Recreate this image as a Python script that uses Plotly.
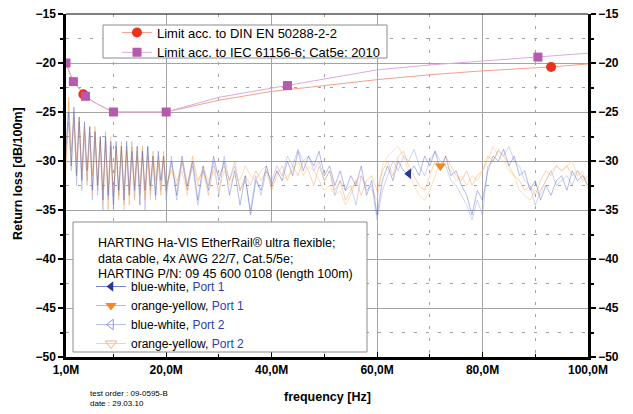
import plotly.graph_objects as go

# ---------------- data ----------------
freq = [1.0, 1.5, 2.0, 2.5, 3.0, 3.5, 4.0, 4.5, 5.0, 5.5, 6.0, 6.5, 7.0, 7.5, 8.0, 8.5,
        9.0, 9.5, 10.0, 10.5, 11.0, 11.5, 12.0, 12.5, 13.0, 13.5, 14.0, 14.5, 15.0, 15.5,
        16.0, 16.5, 17.0, 17.5, 18.0, 18.5, 19.0, 19.5, 20.0,
        21, 22, 23, 24, 25, 26, 27, 28, 29, 30, 31, 32, 33, 34, 35, 36, 37, 38, 39, 40,
        41, 42, 43, 44, 45, 46, 47, 48, 49, 50, 51, 52, 53, 54, 55, 56, 57, 58, 59, 60,
        61, 62, 63, 64, 65, 66, 67, 68, 69, 70, 71, 72, 73, 74, 75, 76, 77, 78, 79, 80,
        81, 82, 83, 84, 85, 86, 87, 88, 89, 90, 91, 92, 93, 94, 95, 96, 97, 98, 99, 100]

bw_port1 = [-28.5, -25.0, -30.5, -24.5, -31.5, -25.5, -32.0, -26.0, -31.0, -26.5, -33.0, -27.0,
            -32.5, -27.5, -34.0, -27.5, -33.5, -28.0, -34.5, -28.0, -33.0, -28.5, -34.0, -28.0,
            -33.5, -29.0, -33.0, -28.5, -34.5, -29.0, -33.0, -28.5, -32.5, -29.5, -33.5, -29.0,
            -32.0, -29.5, -33.0,
            -30.0, -33.5, -29.5, -32.5, -30.0, -34.0, -30.5, -33.0, -29.5, -32.0,
            -30.0, -33.5, -31.0, -34.5, -31.5, -35.5, -32.0, -33.0, -30.5, -32.5,
            -31.0, -32.0, -30.0, -31.5, -29.0, -31.0, -29.5, -30.5, -29.0, -31.5,
            -30.5, -32.5, -31.0, -33.0, -31.5, -32.5, -30.5, -33.5, -32.0, -35.5,
            -32.0, -30.5, -32.0, -30.0, -31.0, -31.3, -30.5, -31.5, -29.5, -30.5,
            -29.0, -31.0, -29.5, -31.5, -31.0, -32.5, -33.5, -35.5, -33.0, -34.0,
            -31.0, -29.5, -30.0, -28.8, -30.5, -29.5, -31.5, -31.0, -33.0, -32.0,
            -34.0, -32.5, -33.5, -32.0, -31.5, -33.0, -31.0, -32.0, -31.5, -32.5]

oy_port1 = [-30.0, -23.5, -29.0, -25.5, -30.0, -26.0, -31.0, -26.5, -32.5, -27.0, -31.5, -26.5,
            -33.0, -27.5, -33.0, -28.0, -35.0, -28.5, -33.5, -28.5, -34.0, -28.0, -33.0, -29.0,
            -34.5, -28.5, -32.5, -29.0, -33.5, -28.5, -34.0, -29.5, -33.0, -29.0, -32.0, -30.0,
            -33.5, -29.0, -32.5,
            -31.0, -32.5, -30.0, -33.0, -29.5, -32.0, -31.0, -33.5, -30.5, -31.5,
            -30.5, -32.0, -30.0, -33.0, -31.5, -32.5, -31.0, -32.0, -31.0, -33.0,
            -31.5, -30.5, -32.0, -30.5, -31.5, -30.0, -31.0, -32.5, -30.5, -32.0,
            -31.0, -33.0, -32.0, -34.0, -33.0, -32.0, -33.5, -32.0, -31.5, -33.0,
            -31.0, -30.0, -31.5, -29.5, -29.0, -30.5, -31.5, -32.5, -33.0, -31.5,
            -30.0, -30.5, -29.5, -30.5, -31.5, -32.0, -31.0, -32.5, -31.5, -31.0,
            -29.5, -30.0, -28.8, -29.5, -30.5, -31.5, -32.0, -33.0, -32.5, -33.5,
            -32.0, -31.0, -31.5, -30.5, -31.0, -30.5, -31.5, -31.0, -32.0, -31.5]

bw_port2 = [-29.5, -26.0, -31.0, -25.0, -32.5, -26.0, -33.0, -27.0, -32.0, -26.5, -34.0, -27.5,
            -33.5, -28.0, -35.0, -27.0, -34.0, -28.5, -35.0, -28.5, -33.5, -29.0, -34.5, -28.5,
            -33.0, -28.0, -34.0, -29.5, -33.0, -29.0, -35.0, -28.5, -33.5, -30.0, -34.0, -29.5,
            -33.0, -30.0, -34.0,
            -29.5, -34.0, -30.0, -33.0, -30.5, -34.5, -31.0, -32.5, -30.0, -33.5,
            -29.5, -32.0, -30.5, -33.0, -32.0, -35.0, -31.5, -33.5, -31.0, -32.0,
            -30.5, -31.5, -29.5, -30.5, -28.8, -30.0, -29.5, -31.0, -30.0, -32.0,
            -31.0, -33.5, -32.0, -33.0, -32.5, -34.5, -31.5, -33.0, -32.5, -36.0,
            -33.0, -31.5, -30.0, -31.0, -29.5, -30.0, -28.8, -30.5, -31.5, -30.0,
            -29.0, -30.0, -30.5, -32.0, -32.5, -33.5, -34.5, -36.0, -34.0, -35.5,
            -30.5, -30.0, -29.0, -29.5, -28.5, -30.0, -30.5, -32.0, -32.5, -34.5,
            -33.0, -32.0, -31.0, -32.5, -32.0, -31.5, -32.5, -31.0, -31.5, -32.0]

oy_port2 = [-31.0, -24.0, -30.5, -26.0, -31.5, -25.5, -32.0, -27.0, -31.5, -27.5, -33.5, -27.0,
            -32.0, -28.0, -34.5, -28.5, -33.0, -27.5, -34.0, -29.0, -33.5, -28.5, -35.0, -29.0,
            -33.0, -29.5, -34.0, -28.5, -32.5, -29.5, -33.5, -29.0, -34.0, -29.5, -33.0, -30.0,
            -32.5, -29.5, -33.0,
            -30.5, -32.0, -31.0, -33.5, -30.0, -32.5, -30.5, -32.0, -31.0, -33.0,
            -31.0, -32.5, -31.5, -32.0, -30.5, -31.5, -32.0, -31.0, -30.5, -32.5,
            -31.0, -32.0, -31.5, -31.0, -30.0, -31.5, -30.5, -31.0, -32.0, -33.0,
            -32.5, -33.5, -33.0, -34.5, -33.5, -32.0, -31.5, -32.5, -33.0, -34.0,
            -30.5, -29.5, -29.0, -28.5, -29.5, -31.0, -32.5, -33.5, -34.0, -33.0,
            -31.5, -30.0, -30.5, -31.0, -32.0, -31.5, -32.5, -31.5, -32.0, -31.0,
            -30.0, -28.5, -29.5, -30.0, -31.0, -31.5, -33.0, -33.5, -34.0, -33.0,
            -33.5, -32.0, -31.0, -30.5, -31.0, -30.5, -30.0, -31.5, -31.0, -33.0]

# marker positions on the measured curves
bw_port1_mark_f = [66]
oy_port1_mark_f = [72]

# limit lines
din_f = [1, 2, 4.3, 6, 8, 10, 20, 30, 40, 50, 60, 70, 80, 93, 100]
din_v = [-20.0, -21.5, -23.2, -23.9, -24.5, -25.0, -25.0, -23.8, -22.9, -22.3, -21.7,
         -21.2, -20.8, -20.4, -20.1]
din_mark_f = [4.3, 93]

iec_f = [1, 2.4, 4.7, 7, 10, 20, 30, 43, 50, 60, 70, 80, 90.5, 100]
iec_v = [-20.0, -21.9, -23.4, -24.2, -25.0, -25.0, -23.5, -22.3, -21.6, -20.7, -20.2,
         -19.8, -19.4, -19.0]
iec_mark_f = [1, 2.4, 4.7, 10, 20, 43, 90.5]

x_tickvals = [1, 20, 40, 60, 80, 100]
x_ticktext = ["1,0M", "20,0M", "40,0M", "60,0M", "80,0M", "100,0M"]
x_minorvals = [10, 30, 50, 70, 90]
y_tickvals = [-15, -20, -25, -30, -35, -40, -45, -50]

info_lines = ["HARTING Ha-VIS EtherRail® ultra flexible;",
              "data cable, 4x AWG 22/7, Cat.5/5e;",
              "HARTING P/N: 09 45 600 0108 (length 100m)"]

# ---------------- styles ----------------
FONT = "Liberation Sans Narrow, Liberation Sans, Arial, sans-serif"
C_BW1 = "rgba(55,75,185,0.55)"
C_OY1 = "rgba(240,140,50,0.55)"
C_BW2 = "rgba(140,150,225,0.60)"
C_OY2 = "rgba(250,190,120,0.70)"
C_DIN_LINE = "#f5a08c"
C_DIN_MARK = "#e8341c"
C_IEC_LINE = "#dcaadc"
C_IEC_MARK = "#b65aae"


def pick(fs, xs, ys):
    return [ys[xs.index(f)] for f in fs]


fig = go.Figure()

# measured curves
for ys, col in [(bw_port2, C_BW2), (oy_port2, C_OY2), (oy_port1, C_OY1), (bw_port1, C_BW1)]:
    fig.add_trace(go.Scatter(x=freq, y=ys, mode="lines", line=dict(color=col, width=0.7),
                             showlegend=False, hoverinfo="skip"))

# limit curves
fig.add_trace(go.Scatter(x=din_f, y=din_v, mode="lines", line=dict(color=C_DIN_LINE, width=1),
                         showlegend=False))
fig.add_trace(go.Scatter(x=iec_f, y=iec_v, mode="lines", line=dict(color=C_IEC_LINE, width=1),
                         showlegend=False))
fig.add_trace(go.Scatter(x=din_mark_f, y=pick(din_mark_f, din_f, din_v), mode="markers",
                         marker=dict(symbol="circle", size=10, color=C_DIN_MARK), showlegend=False))
fig.add_trace(go.Scatter(x=iec_mark_f, y=pick(iec_mark_f, iec_f, iec_v), mode="markers",
                         marker=dict(symbol="square", size=9, color=C_IEC_MARK), showlegend=False))

# markers on measured curves
fig.add_trace(go.Scatter(x=bw_port1_mark_f, y=pick(bw_port1_mark_f, freq, bw_port1), mode="markers",
                         marker=dict(symbol="triangle-left", size=9, color="#24379a"),
                         showlegend=False))
fig.add_trace(go.Scatter(x=oy_port1_mark_f, y=pick(oy_port1_mark_f, freq, oy_port1), mode="markers",
                         marker=dict(symbol="triangle-down", size=10, color="#f08a24"),
                         showlegend=False))

# legend entries (legend 1: limits)
fig.add_trace(go.Scatter(x=[None], y=[None], mode="lines+markers", name="Limit acc. to DIN EN 50288-2-2",
                         line=dict(color=C_DIN_LINE, width=1),
                         marker=dict(symbol="circle", size=10, color=C_DIN_MARK), legend="legend"))
fig.add_trace(go.Scatter(x=[None], y=[None], mode="lines+markers",
                         name="Limit acc. to IEC 61156-6; Cat5e: 2010",
                         line=dict(color=C_IEC_LINE, width=1),
                         marker=dict(symbol="square", size=9, color=C_IEC_MARK), legend="legend"))

# legend entries (legend 2: measurements)
PB = "<span style='color:#2c3fb0'>{}</span>"
fig.add_trace(go.Scatter(x=[None], y=[None], mode="lines+markers",
                         name="blue-white, " + PB.format("Port 1"),
                         line=dict(color="rgba(55,75,185,0.7)", width=1),
                         marker=dict(symbol="triangle-left", size=9, color="#24379a"), legend="legend2"))
fig.add_trace(go.Scatter(x=[None], y=[None], mode="lines+markers",
                         name="orange-yellow, " + PB.format("Port 1"),
                         line=dict(color="rgba(240,140,50,0.7)", width=1),
                         marker=dict(symbol="triangle-down", size=10, color="#f08a24"), legend="legend2"))
fig.add_trace(go.Scatter(x=[None], y=[None], mode="lines+markers",
                         name="blue-white, " + PB.format("Port 2"),
                         line=dict(color=C_BW2, width=1),
                         marker=dict(symbol="triangle-left-open", size=9, color="#8c96dc"), legend="legend2"))
fig.add_trace(go.Scatter(x=[None], y=[None], mode="lines+markers",
                         name="orange-yellow, " + PB.format("Port 2"),
                         line=dict(color=C_OY2, width=1),
                         marker=dict(symbol="triangle-down-open", size=10, color="#f5b474"), legend="legend2"))

# invisible trace on the right axis so it is drawn
fig.add_trace(go.Scatter(x=[None], y=[None], yaxis="y2", showlegend=False))

# page body has an 8px margin: figure is drawn 8px smaller and all reference
# pixel positions are converted with that offset
OX, OY = 8, 8
W, H = 633 - OX, 414 - OY
L, R, T, B = 66 - OX, 45, 14 - OY, 57
pw, ph = W - L - R, H - T - B


def px(xp):
    return (xp - OX - L) / pw


def py(yp):
    return 1 - (yp - OY - T) / ph


tickfont = dict(family=FONT, size=12, color="black", weight="bold")
grid_major = "#a4a4a4"
grid_minor = "#a0a0a0"
minor_dash = "3px,9px"


def yax(grid, side):
    return dict(range=[-50, -15], tickvals=y_tickvals, ticks="outside", ticklen=5,
                tickwidth=1.5, tickcolor="black", showline=True, linewidth=2.5,
                linecolor="black", zeroline=False, tickfont=tickfont, side=side,
                ticklabeloverflow="allow",
                showgrid=grid, gridcolor=grid_major, gridwidth=1,
                minor=dict(dtick=2.5, tick0=-50, ticks="outside", ticklen=3, tickcolor="black",
                           showgrid=grid, gridcolor=grid_minor, griddash=minor_dash, gridwidth=1))


fig.update_layout(
    width=W, height=H,
    margin=dict(l=L, r=R, t=T, b=B, autoexpand=False),
    paper_bgcolor="white", plot_bgcolor="white",
    font=dict(family=FONT, size=12, color="black"),
    xaxis=dict(range=[1, 100], tickvals=x_tickvals, ticktext=x_ticktext, ticks="inside",
               ticklen=5, tickcolor="black", showline=True, linewidth=2.5, linecolor="black",
               zeroline=False, showgrid=True, gridcolor=grid_major, gridwidth=1,
               tickfont=tickfont, ticklabeloverflow="allow",
               minor=dict(tickvals=x_minorvals, ticks="inside", ticklen=3,
                          tickcolor="black", showgrid=True, gridcolor=grid_minor,
                          griddash=minor_dash, gridwidth=1)),
    yaxis=yax(True, "left"),
    yaxis2=dict(**yax(False, "right"), overlaying="y", matches="y"),
    legend=dict(x=px(117), y=py(17.5), xanchor="left", yanchor="top", bgcolor="rgba(0,0,0,0)",
                borderwidth=0, font=dict(family=FONT, size=13), tracegroupgap=0),
    legend2=dict(x=px(91), y=py(272), xanchor="left", yanchor="top", bgcolor="rgba(0,0,0,0)",
                 borderwidth=0, font=dict(family=FONT, size=12)),
    shapes=[
        dict(type="rect", xref="paper", yref="paper", x0=px(103), x1=px(387), y0=py(58), y1=py(25),
             line=dict(color="#8c8c8c", width=1), fillcolor="white", layer="above"),
        dict(type="rect", xref="paper", yref="paper", x0=px(73), x1=px(367), y0=py(352), y1=py(222),
             line=dict(color="#8c8c8c", width=1), fillcolor="white", layer="above"),
        dict(type="line", xref="paper", yref="paper", x0=0, x1=1, y0=1, y1=1,
             line=dict(color="black", width=1)),
    ],
    annotations=[
        dict(text="frequency [Hz]", xref="paper", yref="paper", x=px(327), y=py(397),
             xanchor="center", yanchor="middle", showarrow=False,
             font=dict(family=FONT, size=12.5, weight="bold")),
        dict(text="Return loss [dB/100m]", xref="paper", yref="paper", x=px(18), y=py(174),
             xanchor="center", yanchor="middle", showarrow=False, textangle=-90,
             font=dict(family=FONT, size=12.5, weight="bold")),
        dict(text="test order : 09-0595-B", xref="paper", yref="paper", x=px(88), y=py(393),
             xanchor="left", yanchor="middle", showarrow=False, font=dict(family=FONT, size=8)),
        dict(text="date : 29.03.10", xref="paper", yref="paper", x=px(88), y=py(403),
             xanchor="left", yanchor="middle", showarrow=False, font=dict(family=FONT, size=8)),
    ] + [
        dict(text=t, xref="paper", yref="paper", x=px(96), y=py(yy), xanchor="left",
             yanchor="middle", showarrow=False, font=dict(family=FONT, size=12.5))
        for t, yy in zip(info_lines, [243, 258.5, 274])
    ],
)

fig.write_html("out.html")
